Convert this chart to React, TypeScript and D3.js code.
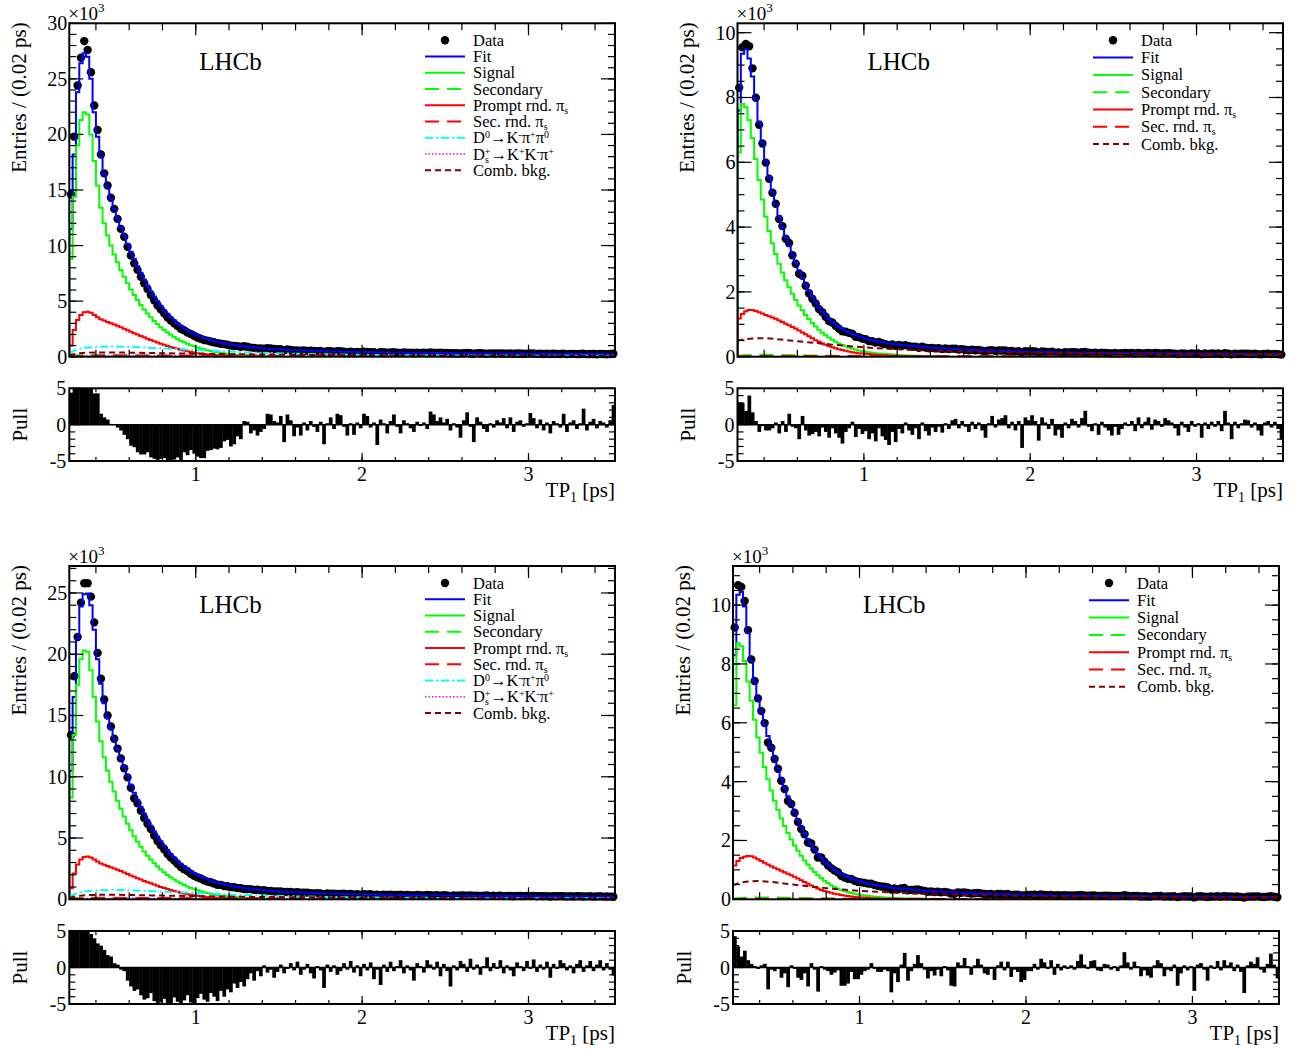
import React from "react";
import * as d3 from "d3";

const FONT = '"Liberation Serif", "Times New Roman", Times, serif';

// ---------- shared axis definitions ----------
const X_MIN = 0.24;
const X_MAX = 3.52;
const BIN_WIDTH = 0.02;
const X_MAJOR = [1, 2, 3];
const X_MINOR_START = 0.4;
const X_MINOR_STEP = 0.2;
const PULL_RANGE = [-5, 5];
const PULL_LABELS = [5, 0, -5];
// grid (ps) on which the small background components are tabulated
const T_GRID = [0.24, 0.3, 0.4, 0.5, 0.6, 0.7, 0.8, 0.9, 1.0, 1.2, 1.4, 1.6, 1.8, 2.0, 2.25, 2.5, 2.75, 3.0, 3.25, 3.52];

// ---------- top-left (values in 10^3 entries) ----------
const TL_DATA = [
  14.6, 19.8, 24.4, 26.9, 28.4, 27.6, 25.6, 22.6, 20.4, 18.2, 16.5, 15.4, 14.3, 13.3, 12.4, 11.5, 10.8, 9.9, 9.1, 8.4,
  7.81, 7.19, 6.61, 6.1, 5.55, 5.07, 4.63, 4.26, 3.9, 3.55, 3.25, 3.0, 2.76, 2.52, 2.38, 2.18, 2.05, 1.88, 1.73, 1.61,
  1.5, 1.45, 1.37, 1.3, 1.22, 1.16, 1.13, 1.08, 1.0, 0.96, 0.95, 0.9, 0.935, 0.892, 0.815, 0.797, 0.748, 0.732, 0.724, 0.76, 0.737,
  0.693, 0.668, 0.675, 0.57, 0.65, 0.614, 0.552, 0.565, 0.529, 0.562, 0.526, 0.547, 0.518, 0.492, 0.514, 0.437, 0.493, 0.503, 0.461,
  0.499, 0.488, 0.447, 0.415, 0.445, 0.406, 0.435, 0.414, 0.45, 0.438, 0.401, 0.41, 0.343, 0.409, 0.395, 0.363, 0.393, 0.406, 0.369, 0.348,
  0.38, 0.368, 0.351, 0.338, 0.362, 0.347, 0.354, 0.334, 0.375, 0.365, 0.345, 0.351, 0.335, 0.341, 0.31, 0.326, 0.312, 0.284, 0.325, 0.341,
  0.304, 0.264, 0.321, 0.308, 0.289, 0.28, 0.297, 0.285, 0.3, 0.293, 0.301, 0.275, 0.298, 0.262, 0.284, 0.285, 0.268, 0.274, 0.295, 0.282,
  0.257, 0.274, 0.249, 0.265, 0.239, 0.264, 0.257, 0.247, 0.275, 0.233, 0.253, 0.255, 0.235, 0.246, 0.275, 0.228, 0.244, 0.249, 0.227, 0.242, 0.237, 0.225, 0.238, 0.269,
];
const TL_FIT = [
  11.5, 18.2, 23.8, 26.4, 27.3, 27.0, 25.0, 22.0, 19.8, 18.0, 16.4, 15.2, 14.2, 13.3, 12.45, 11.65, 10.9, 10.15, 9.45, 8.8,
  8.15, 7.55, 6.95, 6.4, 5.9, 5.42, 4.98, 4.58, 4.2, 3.86, 3.55, 3.27, 3.01, 2.78, 2.57, 2.38, 2.21, 2.06, 1.92, 1.8,
  1.69, 1.59, 1.5, 1.42, 1.34, 1.27, 1.21, 1.15, 1.1, 1.05, 1.0, 0.96, 0.92, 0.88, 0.85, 0.82, 0.79, 0.76, 0.74, 0.72,
  0.7, 0.68, 0.66, 0.645, 0.63, 0.615, 0.6, 0.59, 0.575, 0.565, 0.555, 0.545, 0.535, 0.525, 0.515, 0.505, 0.497, 0.489, 0.481, 0.474,
  0.467, 0.46, 0.453, 0.447, 0.441, 0.435, 0.429, 0.424, 0.419, 0.414, 0.409, 0.404, 0.399, 0.395, 0.391, 0.387, 0.383, 0.379, 0.375, 0.371,
  0.368, 0.364, 0.361, 0.357, 0.354, 0.351, 0.348, 0.345, 0.342, 0.339, 0.336, 0.333, 0.33, 0.327, 0.324, 0.322, 0.319, 0.316, 0.314, 0.311,
  0.309, 0.306, 0.304, 0.301, 0.299, 0.297, 0.294, 0.292, 0.29, 0.288, 0.286, 0.283, 0.281, 0.279, 0.277, 0.275, 0.273, 0.271, 0.269, 0.267,
  0.265, 0.263, 0.262, 0.26, 0.258, 0.256, 0.254, 0.253, 0.251, 0.249, 0.248, 0.246, 0.244, 0.243, 0.241, 0.24, 0.238, 0.237, 0.235, 0.234, 0.232, 0.231, 0.229, 0.228,
];
const TL_PULL = [
  4.4, 5, 5, 5, 5, 5, 5, 4.3, 4.3, 1.5, 1.0, 0.7, 0.1, 0, -0.4, -0.8, -1.4, -2.0, -2.9, -3.1,
  -3.8, -4.1, -4.1, -3.8, -4.5, -4.7, -5, -4.7, -4.6, -5, -5, -4.8, -4.5, -5, -3.8, -4.2, -3.5, -4, -4.4, -4.6,
  -4.6, -3.6, -3.5, -3.3, -3.4, -3.2, -2.3, -2.1, -3, -2.7, -1.6, -2.0, 0.5, 0.4, -1.2, -0.8, -1.5, -1.0, -0.6, 1.5, 1.4,
  0.5, 0.3, 1.2, -2.4, 1.4, 0.6, -1.6, -0.4, -1.5, 0.3, -0.8, 0.5, -0.3, -1.0, 0.4, -2.7, 0.2, 1.0, -0.6,
  1.5, 1.3, -0.3, -1.5, 0.2, -1.4, 0.3, -0.5, 1.5, 1.2, -0.4, 0.3, -2.8, 0.7, 0.2, -1.2, 0.5, 1.4, -0.3, -1.2,
  0.6, 0.2, -0.5, -1.0, 0.4, -0.2, 0.3, -0.6, 1.8, 1.4, 0.5, 1.0, 0.3, 0.8, -0.8, 0.2, -0.4, -1.8, 0.6, 1.7,
  -0.3, -2.4, 1.0, 0.4, -0.6, -1.0, 0.2, -0.4, 0.6, 0.3, 0.9, -0.5, 1.0, -1.0, 0.4, 0.6, -0.3, 0.2, 1.6, 0.9,
  -0.5, 0.7, -0.8, 0.3, -1.2, 0.5, 0.2, -0.4, 1.5, -1.0, 0.3, 0.6, -0.6, 0.2, 2.2, -0.8, 0.4, 0.8, -0.5, 0.5, 0.3, -0.4, 0.6, 2.7,
];
const TL_SIGNAL = [
  8.8, 14.4, 19.0, 21.3, 22.0, 21.8, 20.0, 17.6, 15.4, 13.4, 12.0, 10.9, 10.0, 9.2, 8.5, 7.8, 7.2, 6.6, 6.05, 5.55,
  5.1, 4.65, 4.25, 3.88, 3.54, 3.22, 2.93, 2.66, 2.41, 2.18, 1.97, 1.78, 1.6, 1.44, 1.29, 1.16, 1.04, 0.93, 0.83, 0.74,
  0.66, 0.58, 0.51, 0.45, 0.4, 0.35, 0.31, 0.27, 0.24, 0.21, 0.18, 0.16, 0.14, 0.12, 0.1, 0.09, 0.08, 0.07, 0.06, 0.05, 0.04,
];
const TL_PROMPT = [
  1.0, 2.4, 3.3, 3.75, 4.0, 4.05, 3.95, 3.75, 3.55, 3.38, 3.25, 3.13, 3.02, 2.9, 2.78, 2.65, 2.52, 2.39, 2.25, 2.12,
  1.99, 1.86, 1.74, 1.62, 1.5, 1.39, 1.28, 1.17, 1.07, 0.97, 0.88, 0.79, 0.71, 0.63, 0.56, 0.49, 0.43, 0.37, 0.32, 0.28,
  0.24, 0.21, 0.18, 0.16, 0.14, 0.12, 0.1, 0.09, 0.08, 0.07, 0.06,
];
const TL_SECONDARY = [0.04, 0.12, 0.16, 0.15, 0.12, 0.1, 0.08, 0.06, 0.045, 0.03, 0.02, 0.012, 0.008, 0.006, 0.005, 0.004, 0.003, 0.003, 0.003, 0.003];
const TL_SECRND = [0.03, 0.07, 0.1, 0.11, 0.11, 0.11, 0.11, 0.105, 0.1, 0.095, 0.09, 0.085, 0.08, 0.078, 0.075, 0.072, 0.07, 0.068, 0.066, 0.064];
const TL_D0 = [0.3, 0.7, 0.88, 0.92, 0.88, 0.82, 0.75, 0.68, 0.6, 0.46, 0.35, 0.27, 0.21, 0.17, 0.14, 0.12, 0.1, 0.09, 0.085, 0.08];
const TL_DS = [0.03, 0.06, 0.08, 0.08, 0.075, 0.07, 0.06, 0.055, 0.05, 0.04, 0.035, 0.03, 0.027, 0.025, 0.023, 0.021, 0.02, 0.019, 0.018, 0.017];
const TL_COMB = [0.15, 0.3, 0.38, 0.38, 0.36, 0.34, 0.31, 0.29, 0.27, 0.23, 0.2, 0.17, 0.15, 0.13, 0.115, 0.1, 0.09, 0.08, 0.07, 0.065];

// ---------- top-right ----------
const TR_DATA = [
  8.3, 9.55, 9.65, 9.58, 8.9, 7.99, 7.16, 6.58, 5.99, 5.49, 5.06, 4.72, 4.25, 4.03, 3.64, 3.51, 3.13, 2.87, 2.56, 2.5,
  2.19, 1.96, 1.79, 1.64, 1.47, 1.375, 1.234, 1.099, 1.054, 0.952, 0.865, 0.784, 0.772, 0.736, 0.711, 0.616, 0.605, 0.558, 0.539, 0.484,
  0.478, 0.434, 0.454, 0.413, 0.387, 0.358, 0.38, 0.34, 0.363, 0.34, 0.358, 0.326, 0.306, 0.312, 0.277, 0.308, 0.28, 0.262, 0.272, 0.256,
  0.26, 0.24, 0.255, 0.237, 0.249, 0.247, 0.222, 0.233, 0.216, 0.2, 0.217, 0.198, 0.207, 0.188, 0.17, 0.194, 0.204, 0.18, 0.191, 0.191,
  0.193, 0.166, 0.175, 0.157, 0.171, 0.121, 0.173, 0.165, 0.171, 0.159, 0.124, 0.161, 0.151, 0.138, 0.153, 0.123, 0.131, 0.116, 0.14, 0.128,
  0.142, 0.137, 0.125, 0.138, 0.148, 0.123, 0.114, 0.125, 0.107, 0.125, 0.116, 0.109, 0.101, 0.113, 0.1, 0.108, 0.116, 0.11, 0.116, 0.101,
  0.119, 0.103, 0.111, 0.116, 0.099, 0.112, 0.109, 0.1, 0.111, 0.108, 0.104, 0.095, 0.084, 0.103, 0.094, 0.087, 0.102, 0.093, 0.097, 0.078,
  0.097, 0.088, 0.097, 0.089, 0.097, 0.082, 0.109, 0.093, 0.071, 0.093, 0.084, 0.09, 0.095, 0.093, 0.083, 0.089, 0.079, 0.071, 0.088, 0.09, 0.08, 0.088, 0.078, 0.065,
];
const TR_FIT = [
  7.6, 9.35, 9.5, 9.2, 8.65, 7.95, 7.25, 6.6, 6.05, 5.55, 5.1, 4.7, 4.33, 4.0, 3.7, 3.42, 3.15, 2.9, 2.66, 2.44,
  2.23, 2.03, 1.85, 1.68, 1.53, 1.39, 1.27, 1.16, 1.07, 0.99, 0.92, 0.86, 0.8, 0.75, 0.7, 0.66, 0.62, 0.59, 0.56, 0.53,
  0.505, 0.485, 0.465, 0.447, 0.43, 0.415, 0.4, 0.387, 0.375, 0.363, 0.352, 0.341, 0.331, 0.321, 0.312, 0.303, 0.295, 0.287, 0.279, 0.272,
  0.265, 0.258, 0.252, 0.246, 0.24, 0.235, 0.23, 0.225, 0.22, 0.215, 0.211, 0.207, 0.203, 0.199, 0.195, 0.191, 0.188, 0.185, 0.182, 0.179,
  0.176, 0.173, 0.17, 0.167, 0.165, 0.162, 0.16, 0.157, 0.155, 0.153, 0.151, 0.149, 0.147, 0.145, 0.143, 0.141, 0.139, 0.137, 0.136, 0.134,
  0.133, 0.131, 0.13, 0.128, 0.127, 0.126, 0.124, 0.123, 0.122, 0.121, 0.12, 0.118, 0.117, 0.116, 0.115, 0.114, 0.113, 0.112, 0.111, 0.11,
  0.109, 0.108, 0.107, 0.106, 0.106, 0.105, 0.104, 0.103, 0.102, 0.102, 0.101, 0.1, 0.099, 0.099, 0.098, 0.097, 0.097, 0.096, 0.095, 0.095,
  0.094, 0.094, 0.093, 0.092, 0.092, 0.091, 0.091, 0.09, 0.09, 0.089, 0.089, 0.088, 0.088, 0.087, 0.087, 0.086, 0.086, 0.085, 0.085, 0.085, 0.084, 0.084, 0.083, 0.083,
];
const TR_PULL = [
  3.0, 3.0, 1.9, 4.0, 1.7, 0.5, -1.0, -0.2, -0.8, -0.8, -0.5, 0.3, -1.2, 0.5, -1.0, 1.5, -0.3, -0.5, -2.0, 1.2,
  -0.8, -1.5, -1.3, -1.0, -1.6, -0.4, -1.0, -1.8, -0.5, -1.2, -1.8, -2.6, -1.0, -0.5, 0.4, -1.7, -0.6, -1.3, -0.9, -2.0,
  -1.2, -2.3, -0.5, -1.6, -2.1, -2.8, -1.0, -2.4, -0.6, -1.2, 0.3, -0.8, -1.4, -0.5, -2.0, 0.3, -0.9, -1.5, -0.4, -1.0,
  -0.3, -1.1, 0.2, -0.6, 0.6, 0.8, -0.5, 0.5, -0.3, -1.0, 0.4, -0.6, 0.3, -0.8, -1.8, 0.2, 1.2, -0.4, 0.7, 0.9,
  1.3, -0.5, 0.4, -0.8, 0.5, -3.2, 1.0, 0.6, 1.3, 0.5, -2.2, 1.0, 0.3, -0.6, 0.8, -1.5, -0.7, -1.8, 0.3, -0.5,
  0.8, 0.5, -0.4, 0.9, 1.9, -0.3, -0.9, 0.2, -1.4, 0.4, -0.4, -0.8, -1.5, -0.3, -1.4, -0.6, 0.3, -0.2, 0.5, -0.9,
  1.0, -0.5, 0.4, 1.0, -0.7, 0.7, 0.5, -0.3, 0.9, 0.6, 0.3, -0.5, -1.5, 0.4, -0.4, -1.0, 0.5, -0.3, 0.2, -1.8,
  0.3, -0.6, 0.4, -0.3, 0.5, -0.9, 1.9, 0.3, -2.0, 0.4, -0.5, 0.2, 0.7, 0.6, -0.4, 0.3, -0.8, -1.5, 0.3, 0.5, -0.4, 0.4, -0.6, -2.0,
];
const TR_SIGNAL = [
  6.3, 7.8, 7.7, 7.3, 6.75, 6.1, 5.45, 4.85, 4.32, 3.88, 3.5, 3.17, 2.87, 2.6, 2.36, 2.14, 1.94, 1.75, 1.58, 1.43,
  1.29, 1.16, 1.04, 0.93, 0.83, 0.74, 0.66, 0.59, 0.52, 0.46, 0.41, 0.36, 0.32, 0.28, 0.25, 0.22, 0.195, 0.175, 0.155, 0.14,
  0.125, 0.11, 0.1, 0.09, 0.08, 0.072, 0.065, 0.058, 0.052, 0.047, 0.042, 0.038, 0.034, 0.03, 0.027, 0.024, 0.021, 0.019, 0.017, 0.015, 0.013,
];
const TR_PROMPT = [
  1.18, 1.32, 1.4, 1.44, 1.44, 1.41, 1.37, 1.33, 1.29, 1.25, 1.21, 1.17, 1.12, 1.07, 1.02, 0.97, 0.92, 0.87, 0.81, 0.75,
  0.69, 0.63, 0.57, 0.51, 0.46, 0.41, 0.37, 0.33, 0.29, 0.26, 0.23, 0.205, 0.18, 0.16, 0.14, 0.125, 0.11, 0.1, 0.09, 0.08,
  0.07, 0.062, 0.055, 0.048, 0.042, 0.037, 0.032, 0.028, 0.024, 0.021, 0.018, 0.016, 0.014, 0.012, 0.01, 0.009, 0.008, 0.007, 0.006, 0.005, 0.005,
];
const TR_SECONDARY = [0.02, 0.05, 0.06, 0.055, 0.045, 0.035, 0.028, 0.02, 0.015, 0.01, 0.006, 0.004, 0.003, 0.002, 0.002, 0.002, 0.001, 0.001, 0.001, 0.001];
const TR_SECRND = [0.005, 0.015, 0.02, 0.022, 0.022, 0.022, 0.021, 0.02, 0.019, 0.017, 0.015, 0.013, 0.012, 0.011, 0.01, 0.009, 0.008, 0.007, 0.007, 0.006];
const TR_COMB = [0.5, 0.55, 0.57, 0.53, 0.48, 0.43, 0.38, 0.33, 0.29, 0.23, 0.19, 0.16, 0.14, 0.125, 0.11, 0.1, 0.095, 0.09, 0.085, 0.08];

// ---------- bottom-left ----------
const BL_DATA = [
  13.4, 18.2, 21.4, 24.2, 25.8, 25.8, 24.7, 22.6, 20.1, 18.0, 16.3, 15.0, 14.1, 13.1, 12.3, 11.5, 10.7, 9.95, 9.1, 8.25,
  7.83, 7.22, 6.63, 6.16, 5.73, 5.21, 4.76, 4.4, 4.08, 3.7, 3.4, 3.17, 2.89, 2.64, 2.46, 2.3, 2.08, 1.91, 1.8, 1.7,
  1.56, 1.44, 1.39, 1.29, 1.19, 1.18, 1.08, 1.06, 0.99, 0.98, 0.91, 0.9, 0.84, 0.83, 0.83, 0.77, 0.776, 0.727, 0.743, 0.691, 0.682,
  0.638, 0.636, 0.644, 0.602, 0.6, 0.604, 0.569, 0.583, 0.53, 0.535, 0.543, 0.503, 0.477, 0.506, 0.483, 0.419, 0.484, 0.453, 0.466,
  0.432, 0.435, 0.45, 0.426, 0.444, 0.406, 0.42, 0.385, 0.414, 0.391, 0.408, 0.357, 0.379, 0.333, 0.385, 0.361, 0.385, 0.355, 0.365, 0.378,
  0.341, 0.356, 0.341, 0.313, 0.353, 0.343, 0.323, 0.351, 0.337, 0.322, 0.338, 0.299, 0.327, 0.307, 0.266, 0.315, 0.301, 0.321, 0.312, 0.289,
  0.318, 0.291, 0.3, 0.274, 0.292, 0.311, 0.276, 0.292, 0.277, 0.295, 0.262, 0.279, 0.265, 0.25, 0.28, 0.269, 0.256, 0.277, 0.257, 0.277,
  0.248, 0.261, 0.248, 0.263, 0.228, 0.256, 0.243, 0.261, 0.252, 0.235, 0.245, 0.226, 0.245, 0.251, 0.225, 0.237, 0.245, 0.221, 0.234, 0.243, 0.219, 0.233, 0.217, 0.204,
];
const BL_FIT = [
  10.5, 16.5, 21.3, 23.9, 24.9, 24.95, 24.0, 22.0, 19.6, 17.6, 16.0, 14.8, 13.9, 13.05, 12.25, 11.5, 10.8, 10.1, 9.35, 8.7,
  8.1, 7.55, 7.0, 6.5, 6.0, 5.55, 5.12, 4.73, 4.36, 4.02, 3.7, 3.41, 3.15, 2.91, 2.69, 2.49, 2.31, 2.14, 1.99, 1.86,
  1.74, 1.63, 1.53, 1.44, 1.36, 1.29, 1.22, 1.16, 1.1, 1.05, 1.0, 0.96, 0.92, 0.88, 0.85, 0.82, 0.79, 0.76, 0.735, 0.71, 0.69,
  0.67, 0.65, 0.635, 0.62, 0.605, 0.59, 0.578, 0.565, 0.553, 0.542, 0.531, 0.521, 0.511, 0.501, 0.492, 0.483, 0.475, 0.467, 0.459,
  0.452, 0.445, 0.438, 0.432, 0.426, 0.42, 0.414, 0.409, 0.404, 0.399, 0.394, 0.389, 0.385, 0.381, 0.377, 0.373, 0.369, 0.365, 0.361, 0.358,
  0.355, 0.351, 0.348, 0.345, 0.342, 0.339, 0.336, 0.333, 0.33, 0.327, 0.324, 0.321, 0.318, 0.316, 0.313, 0.31, 0.308, 0.305, 0.303, 0.3,
  0.298, 0.296, 0.293, 0.291, 0.289, 0.287, 0.284, 0.282, 0.28, 0.278, 0.276, 0.274, 0.272, 0.27, 0.268, 0.266, 0.264, 0.262, 0.26, 0.258,
  0.257, 0.255, 0.253, 0.251, 0.25, 0.248, 0.246, 0.245, 0.243, 0.241, 0.24, 0.238, 0.237, 0.235, 0.234, 0.232, 0.231, 0.229, 0.228, 0.227, 0.225, 0.224, 0.222, 0.221,
];
const BL_PULL = [
  5, 5, 5, 5, 5, 5, 4.6, 4.0, 3.3, 3.0, 2.4, 1.7, 1.5, 0.6, 0.4, -0.3, -0.5, -1.8, -2.6, -3.2,
  -3.0, -3.8, -4.4, -4.2, -3.5, -4.6, -5, -4.8, -4.3, -5, -5, -4.1, -4.7, -5, -4.5, -3.8, -4.8, -5, -4.2, -3.6,
  -4.4, -4.7, -3.5, -4.0, -4.6, -3.2, -4.0, -3.0, -3.4, -2.2, -2.8, -2.0, -2.6, -1.6, -0.8, -1.8, -0.5, -1.2, 0.3, -0.7, -0.3,
  -1.4, -0.6, 0.4, -0.8, -0.2, 0.6, -0.4, 0.8, -1.0, -0.3, 0.5, -0.8, -1.5, 0.2, -0.4, -2.8, 0.4, -0.6, 0.3,
  -1.0, -0.5, 0.6, -0.3, 0.9, -0.7, 0.3, -1.2, 0.5, -0.4, 0.7, -1.6, -0.3, -2.4, 0.4, -0.6, 0.8, -0.5, 0.2, 1.0,
  -0.8, 0.3, -0.4, -1.8, 0.6, 0.2, -0.7, 1.0, 0.4, -0.3, 0.8, -1.2, 0.5, -0.5, -2.6, 0.3, -0.4, 0.9, 0.5, -0.6,
  1.2, -0.3, 0.4, -1.0, 0.2, 1.4, -0.5, 0.6, -0.2, 1.0, -0.8, 0.3, -0.4, -1.2, 0.7, 0.2, -0.5, 0.9, -0.2, 1.1,
  -0.6, 0.4, -0.3, 0.8, -1.4, 0.5, -0.2, 1.0, 0.6, -0.4, 0.3, -0.8, 0.5, 1.0, -0.6, 0.3, 0.9, -0.5, 0.4, 1.0, -0.4, 0.6, -0.3, -1.1,
];
const BL_SIGNAL = [
  8.3, 13.4, 17.5, 19.6, 20.3, 20.2, 18.7, 16.5, 14.5, 12.9, 11.6, 10.5, 9.6, 8.8, 8.05, 7.38, 6.75, 6.17, 5.64, 5.15,
  4.7, 4.29, 3.91, 3.56, 3.24, 2.95, 2.68, 2.43, 2.2, 1.99, 1.8, 1.62, 1.46, 1.31, 1.17, 1.05, 0.93, 0.83, 0.74, 0.65,
  0.58, 0.51, 0.45, 0.4, 0.35, 0.31, 0.27, 0.24, 0.21, 0.18, 0.16, 0.14, 0.12, 0.1, 0.09, 0.08, 0.07, 0.06, 0.05, 0.04, 0.035,
];
const BL_PROMPT = [
  0.9, 2.1, 2.85, 3.25, 3.45, 3.5, 3.42, 3.25, 3.08, 2.93, 2.82, 2.72, 2.62, 2.52, 2.41, 2.3, 2.19, 2.07, 1.95, 1.84,
  1.72, 1.61, 1.5, 1.4, 1.3, 1.2, 1.11, 1.01, 0.93, 0.84, 0.76, 0.68, 0.61, 0.54, 0.48, 0.42, 0.37, 0.32, 0.28, 0.24,
  0.21, 0.18, 0.16, 0.14, 0.12, 0.1, 0.09, 0.08, 0.07, 0.06, 0.05,
];
const BL_SECONDARY = [0.04, 0.11, 0.15, 0.14, 0.11, 0.09, 0.07, 0.055, 0.04, 0.028, 0.018, 0.011, 0.008, 0.006, 0.005, 0.004, 0.003, 0.003, 0.003, 0.003];
const BL_SECRND = [0.03, 0.07, 0.1, 0.1, 0.1, 0.1, 0.1, 0.1, 0.095, 0.09, 0.085, 0.08, 0.076, 0.073, 0.07, 0.068, 0.066, 0.064, 0.062, 0.06];
const BL_D0 = [0.25, 0.55, 0.72, 0.76, 0.74, 0.69, 0.63, 0.57, 0.51, 0.4, 0.31, 0.24, 0.19, 0.16, 0.13, 0.11, 0.095, 0.085, 0.08, 0.075];
const BL_DS = [0.03, 0.06, 0.08, 0.08, 0.075, 0.07, 0.06, 0.055, 0.05, 0.04, 0.035, 0.03, 0.027, 0.025, 0.023, 0.021, 0.02, 0.019, 0.018, 0.017];
const BL_COMB = [0.12, 0.28, 0.36, 0.37, 0.35, 0.33, 0.3, 0.28, 0.26, 0.22, 0.19, 0.17, 0.15, 0.13, 0.115, 0.1, 0.09, 0.082, 0.075, 0.07];

// ---------- bottom-right ----------
const BR_DATA = [
  9.24, 10.68, 10.62, 10.14, 9.15, 8.15, 7.42, 6.83, 6.4, 5.99, 5.33, 5.15, 4.77, 4.44, 4.03, 3.75, 3.34, 3.24, 2.94, 2.63,
  2.39, 2.21, 1.93, 1.9, 1.69, 1.42, 1.42, 1.28, 1.16, 1.06, 0.978, 0.918, 0.796, 0.739, 0.699, 0.694, 0.629, 0.59, 0.576, 0.558,
  0.533, 0.529, 0.486, 0.457, 0.437, 0.427, 0.407, 0.334, 0.372, 0.336, 0.371, 0.388, 0.307, 0.32, 0.328, 0.339, 0.31, 0.286, 0.258, 0.267,
  0.25, 0.256, 0.235, 0.251, 0.236, 0.198, 0.191, 0.237, 0.225, 0.235, 0.214, 0.193, 0.207, 0.216, 0.201, 0.18, 0.174, 0.181, 0.158, 0.182,
  0.186, 0.167, 0.179, 0.149, 0.16, 0.153, 0.134, 0.135, 0.148, 0.146, 0.156, 0.144, 0.161, 0.152, 0.14, 0.152, 0.127, 0.143, 0.13, 0.138,
  0.13, 0.134, 0.127, 0.138, 0.147, 0.13, 0.122, 0.133, 0.133, 0.117, 0.115, 0.125, 0.122, 0.114, 0.118, 0.11, 0.117, 0.136, 0.12, 0.108,
  0.118, 0.111, 0.096, 0.103, 0.096, 0.092, 0.108, 0.114, 0.11, 0.091, 0.099, 0.096, 0.105, 0.075, 0.091, 0.102, 0.094, 0.099, 0.064, 0.1,
  0.102, 0.092, 0.078, 0.097, 0.091, 0.102, 0.088, 0.102, 0.094, 0.098, 0.085, 0.094, 0.084, 0.056, 0.092, 0.096, 0.093, 0.1, 0.084, 0.08, 0.091, 0.104, 0.089, 0.071,
];
const BR_FIT = [
  8.3, 10.35, 10.45, 9.95, 9.05, 8.1, 7.4, 6.85, 6.38, 5.95, 5.55, 5.17, 4.8, 4.45, 4.12, 3.8, 3.5, 3.22, 2.95, 2.7,
  2.47, 2.25, 2.05, 1.87, 1.7, 1.55, 1.41, 1.29, 1.18, 1.09, 1.0, 0.93, 0.87, 0.81, 0.76, 0.71, 0.67, 0.63, 0.6, 0.57,
  0.54, 0.515, 0.49, 0.47, 0.45, 0.433, 0.417, 0.402, 0.388, 0.375, 0.363, 0.351, 0.34, 0.329, 0.319, 0.309, 0.3, 0.291, 0.283, 0.275,
  0.268, 0.261, 0.254, 0.248, 0.242, 0.236, 0.231, 0.226, 0.221, 0.216, 0.211, 0.207, 0.203, 0.199, 0.195, 0.191, 0.188, 0.184, 0.181, 0.178,
  0.175, 0.172, 0.169, 0.166, 0.164, 0.161, 0.159, 0.156, 0.154, 0.152, 0.15, 0.148, 0.146, 0.144, 0.142, 0.14, 0.139, 0.137, 0.135, 0.134,
  0.132, 0.131, 0.13, 0.128, 0.127, 0.126, 0.124, 0.123, 0.122, 0.121, 0.12, 0.119, 0.118, 0.117, 0.116, 0.115, 0.114, 0.113, 0.112, 0.111,
  0.11, 0.109, 0.108, 0.107, 0.107, 0.106, 0.105, 0.104, 0.104, 0.103, 0.102, 0.101, 0.101, 0.1, 0.099, 0.099, 0.098, 0.097, 0.097, 0.096,
  0.096, 0.095, 0.095, 0.094, 0.093, 0.093, 0.092, 0.092, 0.091, 0.091, 0.09, 0.09, 0.09, 0.089, 0.089, 0.088, 0.088, 0.087, 0.087, 0.087, 0.086, 0.086, 0.085, 0.085,
];
const BR_PULL = [
  4.3, 2.9, 1.5, 2.3, 1.0, 0.5, 0.2, -0.2, 0.3, 0.5, -3.0, -0.3, -0.5, -0.2, -1.4, -0.8, -2.7, 0.3, -0.2, -1.4,
  -1.7, -0.8, -2.6, 0.6, -0.3, -3.3, 0.2, -0.3, -0.5, -1.0, -0.7, -0.4, -2.5, -2.5, -2.2, -0.6, -1.6, -1.6, -1.0, -0.5,
  -0.3, 0.6, -0.2, -0.6, -0.6, -0.3, -0.5, -3.4, -0.8, -2.0, 0.4, 2.0, -1.8, -0.5, 0.5, 1.7, 0.6, -0.3, -1.5, -0.5,
  -1.1, -0.3, -1.2, 0.2, -0.4, -2.5, -2.6, 0.7, 0.3, 1.3, 0.2, -1.0, 0.3, 1.2, 0.4, -0.8, -1.0, -0.2, -1.7, 0.3,
  0.8, -0.4, 0.8, -1.3, -0.3, -0.6, -2.0, -1.7, -0.5, -0.5, 0.5, -0.3, 1.2, 0.7, -0.2, 1.0, -1.0, 0.5, -0.4, 0.3,
  -0.2, 0.3, -0.3, 0.9, 1.8, 0.4, -0.2, 0.9, 1.0, -0.4, -0.5, 0.5, 0.4, -0.3, 0.2, -0.5, 0.3, 2.1, 0.7, -0.3,
  0.8, 0.2, -1.2, -0.4, -1.1, -1.4, 0.3, 1.0, 0.6, -1.2, -0.3, -0.5, 0.4, -2.5, -0.8, 0.3, -0.4, 0.2, -3.2, 0.4,
  0.6, -0.3, -1.8, 0.3, -0.2, 0.9, -0.4, 1.0, 0.3, 0.7, -0.5, 0.4, -0.6, -3.5, 0.3, 0.8, 0.5, 1.4, -0.3, -0.7, 0.5, 1.9, 0.4, -1.5,
];
const BR_SIGNAL = [
  6.6, 8.7, 8.6, 8.1, 7.4, 6.75, 6.1, 5.5, 4.98, 4.5, 4.08, 3.7, 3.35, 3.04, 2.75, 2.49, 2.25, 2.03, 1.83, 1.65,
  1.48, 1.32, 1.18, 1.05, 0.93, 0.82, 0.72, 0.63, 0.55, 0.48, 0.42, 0.37, 0.32, 0.28, 0.245, 0.215, 0.19, 0.165, 0.145, 0.13,
  0.115, 0.1, 0.09, 0.08, 0.07, 0.062, 0.055, 0.049, 0.043, 0.038, 0.034, 0.03, 0.027, 0.024, 0.021, 0.019, 0.017, 0.015, 0.013, 0.012, 0.011,
];
const BR_PROMPT = [
  1.15, 1.3, 1.4, 1.45, 1.47, 1.46, 1.42, 1.36, 1.3, 1.24, 1.18, 1.12, 1.07, 1.02, 0.97, 0.92, 0.87, 0.82, 0.77, 0.71,
  0.65, 0.59, 0.53, 0.47, 0.42, 0.37, 0.32, 0.28, 0.25, 0.22, 0.19, 0.17, 0.15, 0.13, 0.11, 0.095, 0.08, 0.07, 0.06, 0.05,
  0.04, 0.035, 0.03, 0.026, 0.022, 0.019, 0.016, 0.014, 0.012, 0.01, 0.009, 0.008, 0.007, 0.006, 0.005, 0.005, 0.004, 0.004, 0.003, 0.003, 0.003,
];
const BR_SECONDARY = [0.02, 0.05, 0.065, 0.06, 0.05, 0.04, 0.03, 0.022, 0.016, 0.01, 0.006, 0.004, 0.003, 0.002, 0.002, 0.002, 0.001, 0.001, 0.001, 0.001];
const BR_SECRND = [0.005, 0.015, 0.02, 0.022, 0.022, 0.022, 0.021, 0.02, 0.019, 0.017, 0.015, 0.013, 0.012, 0.011, 0.01, 0.009, 0.008, 0.007, 0.007, 0.006];
const BR_COMB = [0.48, 0.58, 0.62, 0.57, 0.5, 0.44, 0.38, 0.33, 0.29, 0.23, 0.18, 0.15, 0.13, 0.115, 0.105, 0.097, 0.09, 0.085, 0.081, 0.078];

// ---------- legend ----------
const LEGEND_FULL = ["data", "fit", "signal", "secondary", "prompt", "secRnd", "d0", "ds", "comb"];
const LEGEND_SHORT = ["data", "fit", "signal", "secondary", "prompt", "secRnd", "comb"];

const STYLES: Record<string, { stroke: string; dash?: string; w: number }> = {
  fit: { stroke: "#0000ff", w: 2 },
  signal: { stroke: "#00ff00", w: 2 },
  secondary: { stroke: "#00ff00", dash: "14 8", w: 2 },
  prompt: { stroke: "#ff0000", w: 2 },
  secRnd: { stroke: "#ff0000", dash: "14 8", w: 2 },
  d0: { stroke: "#00ffff", dash: "8 3 2 3", w: 2 },
  ds: { stroke: "#ff00ff", dash: "1.5 2", w: 1.6 },
  comb: { stroke: "#800000", dash: "6 4", w: 2 },
};

const PANELS = [
  {
    key: "tl", x0: 69.3, x1: 615, top: 23.3, bot: 356.7, pTop: 388.3, pBot: 461,
    yMax: 30, yMajor: 5, yMinor: 1, rowH: 16.25, titleX: 26,
    data: TL_DATA, fit: TL_FIT, pull: TL_PULL, signal: TL_SIGNAL, prompt: TL_PROMPT,
    secondary: TL_SECONDARY, secRnd: TL_SECRND, d0: TL_D0, ds: TL_DS, comb: TL_COMB, legend: LEGEND_FULL,
  },
  {
    key: "tr", x0: 737.5, x1: 1283, top: 23.3, bot: 356.7, pTop: 388.3, pBot: 461,
    yMax: 10.29, yMajor: 2, yMinor: 0.5, rowH: 17.3, titleX: 694,
    data: TR_DATA, fit: TR_FIT, pull: TR_PULL, signal: TR_SIGNAL, prompt: TR_PROMPT,
    secondary: TR_SECONDARY, secRnd: TR_SECRND, d0: null, ds: null, comb: TR_COMB, legend: LEGEND_SHORT,
  },
  {
    key: "bl", x0: 69.3, x1: 615, top: 566, bot: 899.3, pTop: 931, pBot: 1004,
    yMax: 27.2, yMajor: 5, yMinor: 1, rowH: 16.25, titleX: 26,
    data: BL_DATA, fit: BL_FIT, pull: BL_PULL, signal: BL_SIGNAL, prompt: BL_PROMPT,
    secondary: BL_SECONDARY, secRnd: BL_SECRND, d0: BL_D0, ds: BL_DS, comb: BL_COMB, legend: LEGEND_FULL,
  },
  {
    key: "br", x0: 733, x1: 1279, top: 566, bot: 899.3, pTop: 931, pBot: 1004,
    yMax: 11.33, yMajor: 2, yMinor: 0.5, rowH: 17.3, titleX: 690,
    data: BR_DATA, fit: BR_FIT, pull: BR_PULL, signal: BR_SIGNAL, prompt: BR_PROMPT,
    secondary: BR_SECONDARY, secRnd: BR_SECRND, d0: null, ds: null, comb: BR_COMB, legend: LEGEND_SHORT,
  },
];

function LegendLabel({ k }: { k: string }) {
  const s = 10;
  switch (k) {
    case "data": return <>Data</>;
    case "fit": return <>Fit</>;
    case "signal": return <>Signal</>;
    case "secondary": return <>Secondary</>;
    case "prompt": return <>Prompt rnd. π<tspan dy={3} fontSize={s}>s</tspan></>;
    case "secRnd": return <>Sec. rnd. π<tspan dy={3} fontSize={s}>s</tspan></>;
    case "d0":
      return (
        <>
          D<tspan dy={-5} fontSize={s}>0</tspan>
          <tspan dy={5}>→K</tspan><tspan dy={-5} fontSize={s}>-</tspan>
          <tspan dy={5}>π</tspan><tspan dy={-5} fontSize={s}>+</tspan>
          <tspan dy={5}>π</tspan><tspan dy={-5} fontSize={s}>0</tspan>
        </>
      );
    case "ds":
      return (
        <>
          D<tspan dy={3} fontSize={s}>s</tspan><tspan dx={-4} dy={-8} fontSize={s}>+</tspan>
          <tspan dy={5}>→K</tspan><tspan dy={-5} fontSize={s}>+</tspan>
          <tspan dy={5}>K</tspan><tspan dy={-5} fontSize={s}>-</tspan>
          <tspan dy={5}>π</tspan><tspan dy={-5} fontSize={s}>+</tspan>
        </>
      );
    case "comb": return <>Comb. bkg.</>;
    default: return null;
  }
}

function Panel({ c }: { c: any }) {
  const xs = d3.scaleLinear().domain([X_MIN, X_MAX]).range([c.x0, c.x1]);
  const ys = d3.scaleLinear().domain([0, c.yMax]).range([c.bot, c.top]);
  const ps = d3.scaleLinear().domain(PULL_RANGE).range([c.pBot, c.pTop]);

  const stepLine = d3.line<[number, number]>()
    .x((d) => xs(d[0]))
    .y((d) => ys(d[1]))
    .curve(d3.curveStepAfter);
  const smoothLine = d3.line<number>()
    .x((_, i) => xs(T_GRID[i]))
    .y((d) => ys(d))
    .curve(d3.curveMonotoneX);

  const stepPath = (vals: number[]) => {
    const pts: [number, number][] = [[X_MIN, 0]];
    vals.forEach((v, i) => pts.push([X_MIN + i * BIN_WIDTH, v]));
    pts.push([X_MIN + vals.length * BIN_WIDTH, vals[vals.length - 1]]);
    return stepLine(pts) || "";
  };

  const curves: [string, number[] | null, string][] = [
    ["fit", c.fit, "step"],
    ["signal", c.signal, "step"],
    ["secondary", c.secondary, "smooth"],
    ["prompt", c.prompt, "step"],
    ["secRnd", c.secRnd, "smooth"],
    ["d0", c.d0, "smooth"],
    ["ds", c.ds, "smooth"],
    ["comb", c.comb, "smooth"],
  ];

  const yMajorTicks = d3.range(0, c.yMax + 1e-6, c.yMajor);
  const yMinorTicks = d3.range(0, c.yMax + 1e-6, c.yMinor);
  const xMinorTicks = d3.range(X_MINOR_START, X_MAX, X_MINOR_STEP);
  const pMinorTicks = d3.range(PULL_RANGE[0], PULL_RANGE[1] + 1e-6, 1);

  const clipId = `clip-${c.key}`;
  const lx0 = c.x1 - 190;
  const lx1 = c.x1 - 150;
  const mx = c.x1 - 170;
  const tx = c.x1 - 142;
  const tickStroke = 1.2;

  return (
    <g>
      <defs>
        <clipPath id={clipId}>
          <rect x={c.x0} y={c.top} width={c.x1 - c.x0} height={c.bot - c.top} />
        </clipPath>
      </defs>

      {/* data markers */}
      <g fill="#000">
        {c.data.map((v: number, i: number) => (
          <circle key={i} cx={xs(X_MIN + (i + 0.5) * BIN_WIDTH)} cy={ys(v)} r={4.2} />
        ))}
      </g>

      {/* model curves */}
      <g clipPath={`url(#${clipId})`} fill="none">
        {curves.map(([k, vals, kind]) =>
          vals ? (
            <path
              key={k}
              d={kind === "step" ? stepPath(vals) : smoothLine(vals) || ""}
              stroke={STYLES[k].stroke}
              strokeWidth={STYLES[k].w}
              strokeDasharray={STYLES[k].dash}
            />
          ) : null
        )}
      </g>

      {/* ticks */}
      <g stroke="#000" strokeWidth={tickStroke}>
        {yMinorTicks.map((t: number) => (
          <g key={"ym" + t}>
            <line x1={c.x0} x2={c.x0 + 7} y1={ys(t)} y2={ys(t)} />
            <line x1={c.x1} x2={c.x1 - 7} y1={ys(t)} y2={ys(t)} />
          </g>
        ))}
        {yMajorTicks.map((t: number) => (
          <g key={"yM" + t}>
            <line x1={c.x0} x2={c.x0 + 14} y1={ys(t)} y2={ys(t)} />
            <line x1={c.x1} x2={c.x1 - 14} y1={ys(t)} y2={ys(t)} />
          </g>
        ))}
        {xMinorTicks.map((t: number) => (
          <g key={"xm" + t}>
            <line x1={xs(t)} x2={xs(t)} y1={c.bot} y2={c.bot - 7} />
            <line x1={xs(t)} x2={xs(t)} y1={c.top} y2={c.top + 7} />
            <line x1={xs(t)} x2={xs(t)} y1={c.pBot} y2={c.pBot - 4} />
            <line x1={xs(t)} x2={xs(t)} y1={c.pTop} y2={c.pTop + 4} />
          </g>
        ))}
        {X_MAJOR.map((t) => (
          <g key={"xM" + t}>
            <line x1={xs(t)} x2={xs(t)} y1={c.bot} y2={c.bot - 12} />
            <line x1={xs(t)} x2={xs(t)} y1={c.top} y2={c.top + 12} />
            <line x1={xs(t)} x2={xs(t)} y1={c.pBot} y2={c.pBot - 8} />
            <line x1={xs(t)} x2={xs(t)} y1={c.pTop} y2={c.pTop + 8} />
          </g>
        ))}
        {pMinorTicks.map((t: number) => {
          const major = t % 5 === 0;
          const L = major ? 12 : 6;
          return (
            <g key={"p" + t}>
              <line x1={c.x0} x2={c.x0 + L} y1={ps(t)} y2={ps(t)} />
              <line x1={c.x1} x2={c.x1 - L} y1={ps(t)} y2={ps(t)} />
            </g>
          );
        })}
      </g>
      <rect x={c.x0} y={c.top} width={c.x1 - c.x0} height={c.bot - c.top} fill="none" stroke="#000" strokeWidth={2} />

      {/* pull histogram */}
      <g fill="#000">
        {c.pull.map((p: number, i: number) => {
          const v = Math.max(PULL_RANGE[0], Math.min(PULL_RANGE[1], p));
          const xa = xs(X_MIN + i * BIN_WIDTH);
          const xb = xs(X_MIN + (i + 1) * BIN_WIDTH);
          const y0 = ps(0);
          const y1 = ps(v);
          return <rect key={i} x={xa} width={xb - xa + 0.4} y={Math.min(y0, y1)} height={Math.abs(y1 - y0)} />;
        })}
      </g>
      <line x1={c.x0} x2={c.x1} y1={ps(0)} y2={ps(0)} stroke="#000" strokeWidth={1.5} />
      <rect x={c.x0} y={c.pTop} width={c.x1 - c.x0} height={c.pBot - c.pTop} fill="none" stroke="#000" strokeWidth={2} />

      {/* labels */}
      <g fontFamily={FONT} fill="#000">
        {yMajorTicks.map((t: number) => (
          <text key={"yl" + t} x={c.x0 - 2} y={ys(t)} dy="0.35em" textAnchor="end" fontSize={20}>
            {d3.format("d")(t)}
          </text>
        ))}
        <text x={c.x0 - 1} y={c.top - 3.5} fontSize={19}>
          ×10<tspan dy={-8} fontSize={13}>3</tspan>
        </text>
        {PULL_LABELS.map((t) => (
          <text key={"pl" + t} x={c.x0 - 3} y={ps(t)} dy="0.35em" textAnchor="end" fontSize={20}>
            {t}
          </text>
        ))}
        {X_MAJOR.map((t) => (
          <text key={"xl" + t} x={xs(t)} y={c.pBot + 20} textAnchor="middle" fontSize={20}>
            {t}
          </text>
        ))}
        <text x={c.x1} y={c.pBot + 36} textAnchor="end" fontSize={21}>
          TP<tspan dy={5} fontSize={14}>1</tspan><tspan dy={-5}> [ps]</tspan>
        </text>
        <text transform={`translate(${c.titleX},${c.top - 1}) rotate(-90)`} textAnchor="end" fontSize={21}>
          Entries / (0.02 ps)
        </text>
        <text transform={`translate(${c.titleX + 1},${(c.pTop + c.pBot) / 2}) rotate(-90)`} textAnchor="middle" fontSize={21}>
          Pull
        </text>
        <text x={c.x0 + 130} y={c.top + 47} fontSize={25}>LHCb</text>

        {/* legend */}
        {c.legend.map((k: string, r: number) => {
          const y = c.top + 17 + r * c.rowH;
          return (
            <g key={k}>
              {k === "data" ? (
                <circle cx={mx} cy={y} r={4.2} fill="#000" />
              ) : (
                <line
                  x1={lx0} x2={lx1} y1={y} y2={y}
                  stroke={STYLES[k].stroke}
                  strokeWidth={STYLES[k].w}
                  strokeDasharray={STYLES[k].dash}
                />
              )}
              <text x={tx} y={y + 5.5} fontSize={16.5}>
                <LegendLabel k={k} />
              </text>
            </g>
          );
        })}
      </g>
    </g>
  );
}

export default function App() {
  return (
    <svg
      width={1296}
      height={1052}
      viewBox="0 0 1296 1052"
      style={{ position: "absolute", left: 0, top: 0, background: "#fff" }}
    >
      <rect x={0} y={0} width={1296} height={1052} fill="#fff" />
      {PANELS.map((c) => (
        <Panel key={c.key} c={c} />
      ))}
    </svg>
  );
}
